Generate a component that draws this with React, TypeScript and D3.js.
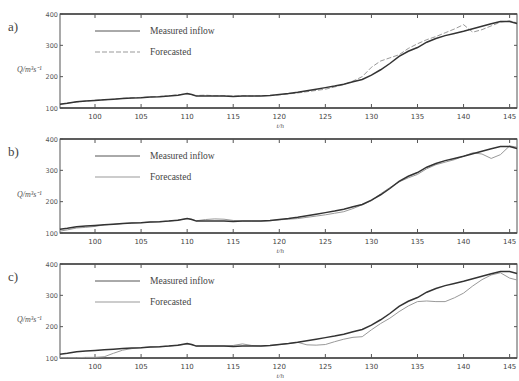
import React from "react";
import * as d3 from "d3";

const times = [96.2, 97, 98, 99, 100, 101, 102, 103, 104, 105, 106, 107, 108, 109, 110, 110.5, 111, 112, 113, 114, 115, 116, 117, 118, 119, 120, 121, 122, 123, 124, 125, 126, 127, 128, 129, 130, 131, 132, 133, 134, 135, 136, 137, 138, 139, 140, 141, 142, 143, 144, 145, 145.8];

const measured = [112, 115, 120, 122, 124, 126, 128, 130, 132, 133, 135, 136, 138, 141, 146, 143, 138, 138, 138, 138, 137, 138, 138, 138, 140, 143, 146, 150, 155, 160, 165, 170, 176, 184, 191, 205, 222, 242, 265, 281, 293, 310, 322, 331, 338, 345, 353, 361, 369, 376, 376, 370];

const forecastA = [112, 116, 119, 122, 125, 126, 128, 131, 132, 134, 135, 137, 139, 142, 145, 142, 140, 141, 139, 139, 138, 139, 138, 139, 140, 142, 145, 148, 152, 156, 160, 167, 175, 186, 200, 230, 250, 260, 270, 290, 305, 318, 328, 340, 352, 366, 342, 350, 362, 374, 378, 372];

const forecastB = [106, 110, 116, 118, 121, 126, 128, 130, 132, 133, 135, 136, 138, 141, 146, 144, 139, 143, 145, 144, 140, 138, 138, 138, 139, 142, 144, 146, 150, 154, 158, 163, 168, 178, 190, 203, 225, 245, 263, 276, 287, 305, 318, 326, 334, 345, 356, 352, 338, 350, 378, 374];

const forecastC = [101, 101, 101, 102, 102, 104, 115, 125, 130, 133, 135, 136, 138, 141, 144, 142, 138, 138, 138, 138, 140, 145, 140, 138, 140, 143, 146, 150, 142, 141, 143, 152, 160, 166, 168, 190, 210, 227, 248, 266, 280, 282, 280, 280, 292, 307, 330, 350, 365, 372, 355, 349];

const panelLabels = ["a)", "b)", "c)"];
const forecasts = [forecastA, forecastB, forecastC];
const forecastDash = ["5,2", "none", "none"];
const xTicks = [100, 105, 110, 115, 120, 125, 130, 135, 140, 145];
const yTicks = [100, 200, 300, 400];
const legendNames = ["Measured inflow", "Forecasted"];

const W = 519;
const H = 381;
const left = 60;
const right = 517;
const panelTops = [14, 139, 264];
const panelH = 94;

export default function App() {
  const x = d3.scaleLinear().domain([96.2, 145.8]).range([left, right]);
  return (
    <svg width={W} height={H} style={{ position: "absolute", left: 0, top: 0, background: "#fff" }}>
      {panelTops.map((top, pi) => {
        const bottom = top + panelH;
        const y = d3.scaleLinear().domain([100, 400]).range([bottom, top]);
        const line = d3
          .line<number>()
          .x((_, i) => x(times[i]))
          .y((d) => y(d))
          .curve(d3.curveLinear);
        return (
          <g key={pi}>
            <text x={8} y={top + 17} fontFamily="Liberation Serif, serif" fontSize={13} fill="#444">
              {panelLabels[pi]}
            </text>
            <text x={17} y={top + 58} fontFamily="Liberation Serif, serif" fontStyle="italic" fontSize={8} fill="#555">
              Q/m³s⁻¹
            </text>
            <rect x={left} y={top} width={right - left} height={panelH} fill="none" stroke="#555" strokeWidth={1} />
            <line x1={left} x2={right} y1={top} y2={top} stroke="#444" strokeWidth={1.6} />
            <line x1={left} x2={right} y1={bottom} y2={bottom} stroke="#444" strokeWidth={1.4} />
            {xTicks.map((t) => (
              <g key={t}>
                <line x1={x(t)} x2={x(t)} y1={bottom} y2={bottom - 4} stroke="#555" />
                <line x1={x(t)} x2={x(t)} y1={top} y2={top + 4} stroke="#555" />
                <text x={x(t)} y={bottom + 10.5} textAnchor="middle" fontFamily="DejaVu Sans, sans-serif" fontSize={7} fill="#444">
                  {t}
                </text>
              </g>
            ))}
            {yTicks.map((v) => (
              <g key={v}>
                <line x1={left} x2={left + 3} y1={y(v)} y2={y(v)} stroke="#555" />
                <line x1={right} x2={right - 3} y1={y(v)} y2={y(v)} stroke="#555" />
                <text x={left - 2} y={y(v) + 2.5} textAnchor="end" fontFamily="DejaVu Sans, sans-serif" fontSize={6.5} fill="#555">
                  {v}
                </text>
              </g>
            ))}
            <text x={x(120) + 1} y={bottom + 19.5} textAnchor="middle" fontFamily="Liberation Serif, serif" fontStyle="italic" fontSize={7} fill="#555">
              t/h
            </text>
            <line x1={95} x2={140} y1={top + 17} y2={top + 17} stroke="#555" strokeWidth={1} />
            <text x={150} y={top + 20} fontFamily="Liberation Serif, serif" fontSize={9.5} fill="#444">
              {legendNames[0]}
            </text>
            <line x1={95} x2={140} y1={top + 38} y2={top + 38} stroke="#999" strokeWidth={1} strokeDasharray={forecastDash[pi]} />
            <text x={150} y={top + 41} fontFamily="Liberation Serif, serif" fontSize={9.5} fill="#444">
              {legendNames[1]}
            </text>
            <path d={line(forecasts[pi]) || ""} fill="none" stroke="#999" strokeWidth={1} strokeDasharray={forecastDash[pi]} />
            <path d={line(measured) || ""} fill="none" stroke="#333" strokeWidth={1.5} />
          </g>
        );
      })}
    </svg>
  );
}
